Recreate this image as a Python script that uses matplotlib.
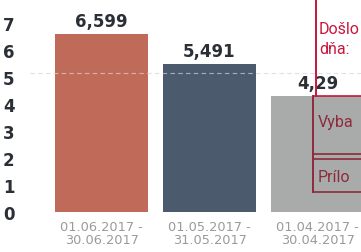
import matplotlib
matplotlib.use("Agg")
import matplotlib.pyplot as plt
from matplotlib.lines import Line2D

periods = ["01.06.2017 -\n30.06.2017", "01.05.2017 -\n31.05.2017", "01.04.2017 -\n30.04.2017"]
values = [6.599, 5.491, 4.29]
value_labels = ["6,599", "5,491", "4,29"]
colors = ["#c06a5a", "#4b5b6d", "#a9abab"]
yticks = [0, 1, 2, 3, 4, 5, 6, 7]
ref_level = 5.15
stamp_lines = ["Došlo", "dňa:", "Vyba", "Prílo"]

W, H = 361, 253
fig = plt.figure(figsize=(W / 100, H / 100), dpi=100)
fig.patch.set_facecolor("white")

def px(x, y):
    return x / W, 1 - y / H

# axes: left at 30px, bottom at 213px (baseline), top at 0
ax = fig.add_axes([30 / W, 40 / H, 331 / W, 213 / H])
ax.set_facecolor("none")
x = list(range(len(values)))
ax.bar(x, values, width=0.861, color=colors, edgecolor="none", zorder=2)
ax.set_xlim(-71.5 / 108, (331 - 71.5) / 108)
ax.set_ylim(0, 213 / 27)
ax.axhline(ref_level, color="#d4d4d4", lw=0.8, ls=(0, (4, 3)), zorder=3, alpha=0.7)

for xi, v, lab in zip(x, values, value_labels):
    ax.text(xi, v + 0.15, lab, ha="center", va="bottom", fontsize=12,
            fontweight="bold", color="#2b2f36", zorder=4)

ax.set_yticks(yticks)
ax.set_yticklabels([str(t) for t in yticks], fontsize=12, fontweight="bold", color="#2b2f36")
ax.set_xticks(x)
ax.set_xticklabels(periods, fontsize=9.3, color="#9a9a9a", linespacing=1.0)
ax.tick_params(axis="y", length=0, pad=11)
ax.tick_params(axis="x", length=0, pad=6)
for s in ax.spines.values():
    s.set_visible(False)

# red stamp overlay
red = "#c8163c"
maroon = "#8e2a3a"
fig.add_artist(Line2D(*zip(px(316, 0), px(316, 97)), color=red, lw=1.4))
fig.add_artist(Line2D(*zip(px(313, 97), px(313, 193)), color=maroon, lw=1.4))
for yy in (97, 155, 160, 193):
    c = red if yy == 97 else maroon
    fig.add_artist(Line2D(*zip(px(313, yy), px(361, yy)), color=c, lw=1.2))
fig.text(*px(319, 30), stamp_lines[0], color=red, fontsize=11.5, va="center", family="Roboto")
fig.text(*px(319, 50), stamp_lines[1], color=red, fontsize=11.5, va="center", family="Roboto")
fig.text(*px(318, 123), stamp_lines[2], color=maroon, fontsize=11.5, va="center", family="Roboto")
fig.text(*px(318, 178), stamp_lines[3], color=maroon, fontsize=11.5, va="center", family="Roboto")

fig.savefig("out.png", dpi=100)
